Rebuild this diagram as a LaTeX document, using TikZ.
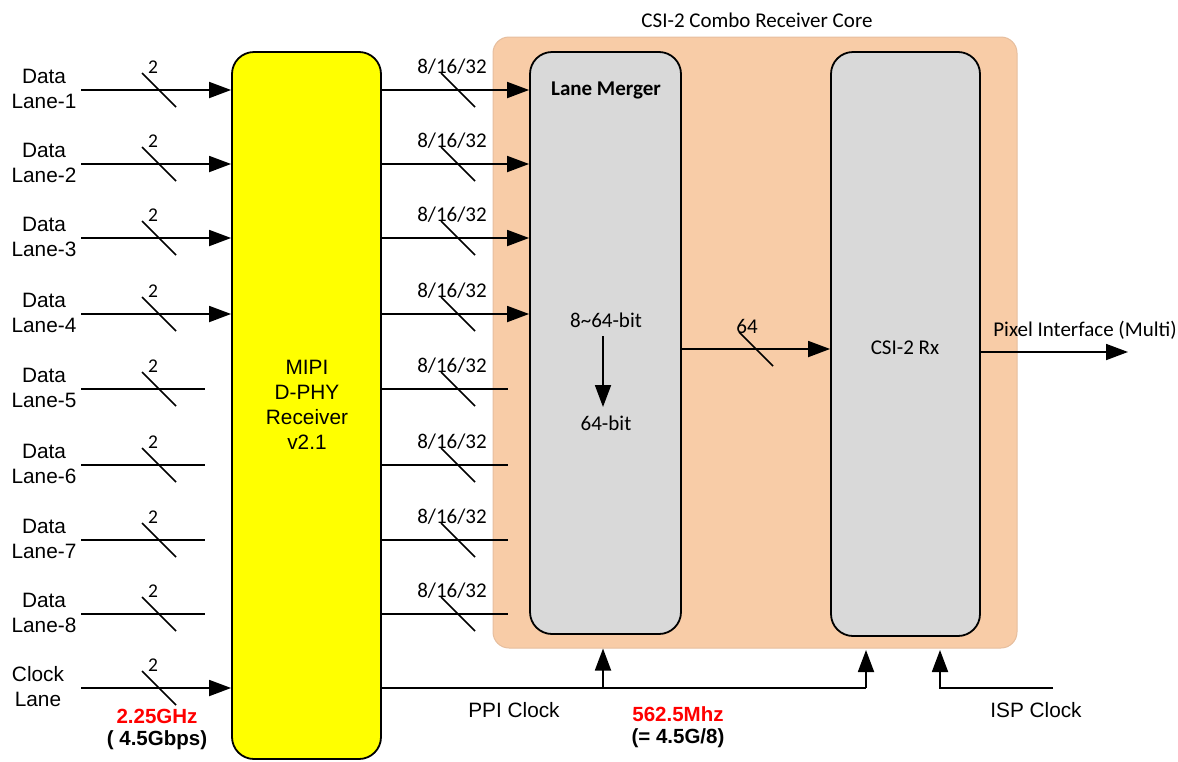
\documentclass[tikz,border=0pt]{standalone}
\usepackage{fontspec}
\setmainfont{Liberation Sans}
\newfontfamily\calfont{Carlito}
\usetikzlibrary{arrows.meta}
\definecolor{phyyellow}{RGB}{255,255,0}
\definecolor{corefill}{RGB}{248,204,167}
\definecolor{coreline}{RGB}{230,190,158}
\definecolor{blockgray}{RGB}{217,217,217}
\begin{document}
\begin{tikzpicture}[x=1pt,y=-1pt,
  wire/.style={line width=1.8pt, draw=black},
  arr/.style={wire, -{Triangle[length=22pt,width=16pt]}},
  slashline/.style={line width=1.5pt},
  blk/.style={draw, line width=1.8pt, rounded corners=22pt, inner sep=0pt},
  lbl/.style={font=\fontsize{20.8}{25}\selectfont, align=center, inner sep=0pt},
  cal/.style={font=\calfont\fontsize{21}{25}\selectfont, align=center, inner sep=0pt},
  calsm/.style={font=\calfont\fontsize{19.5}{22}\selectfont, inner sep=0pt},
  boldlbl/.style={font=\bfseries\fontsize{20.5}{24}\selectfont, inner sep=0pt}]
\useasboundingbox (0,0) rectangle (1178,761);

% blocks
\node[draw=coreline, line width=1pt, fill=corefill, rounded corners=16pt, minimum width=524pt, minimum height=611pt, inner sep=0pt] (core) at (755,342.5) {};
\node[blk, fill=phyyellow, minimum width=149pt, minimum height=707pt] (phy) at (306.5,405.5) {};
\node[blk, fill=blockgray, minimum width=151pt, minimum height=582pt] (merger) at (605.5,343) {};
\node[blk, fill=blockgray, minimum width=149pt, minimum height=584pt] (csirx) at (905.5,344) {};

\node[cal] (coretitle) at (757,20) {CSI-2 Combo Receiver Core};
\node[lbl] (phytext) at (307,405) {MIPI\\D-PHY\\Receiver\\v2.1};
\node[cal, font=\calfont\bfseries\fontsize{21}{24}\selectfont] (mergertitle) at (606,90) {Lane Merger};
\node[cal] (bitin) at (606,320) {8\textasciitilde 64-bit};
\node[cal] (bitout) at (606,423) {64-bit};
\draw[arr] (603,336) coordinate (dtop) -- (603,407) coordinate (dbot);
\node[cal] (rxtext) at (905,348) {CSI-2 Rx};

% lanes with arrows
\foreach \i/\y in {1/90,2/164,3/238,4/314} {
  \node[lbl] (lab\i) at (44,\y-1) {Data\\Lane-\i};
  \coordinate (in\i) at (81,\y);
  \draw[arr] (in\i) -- (in\i -| phy.west);
  \coordinate (s\i) at (159,\y);
  \draw[slashline] ([shift={(-17,-17)}]s\i) -- ([shift={(17,17)}]s\i);
  \node[calsm] (n\i) at (153,\y-23) {2};
  \draw[arr] (phy.east |- in\i) -- (merger.west |- in\i);
  \coordinate (t\i) at (458,\y);
  \draw[slashline] ([shift={(-17,-17)}]t\i) -- ([shift={(17,17)}]t\i);
  \node[cal] (w\i) at (452,\y-23) {8/16/32};
}
% lanes without arrows
\foreach \i/\y in {5/389,6/465,7/540,8/614} {
  \node[lbl] (lab\i) at (44,\y-1) {Data\\Lane-\i};
  \coordinate (in\i) at (81,\y);
  \coordinate (e\i) at (205,\y);
  \draw[wire] (in\i) -- (e\i);
  \coordinate (s\i) at (159,\y);
  \draw[slashline] ([shift={(-17,-17)}]s\i) -- ([shift={(17,17)}]s\i);
  \node[calsm] (n\i) at (153,\y-23) {2};
  \coordinate (f\i) at (508,\y);
  \draw[wire] (phy.east |- in\i) -- (f\i);
  \coordinate (t\i) at (458,\y);
  \draw[slashline] ([shift={(-17,-17)}]t\i) -- ([shift={(17,17)}]t\i);
  \node[cal] (w\i) at (452,\y-23) {8/16/32};
}
% clock lane
\node[lbl] (labclk) at (38,687) {Clock\\Lane};
\coordinate (inclk) at (81,688);
\draw[arr] (inclk) -- (inclk -| phy.west);
\coordinate (sclk) at (159,688);
\draw[slashline] ([shift={(-17,-17)}]sclk) -- ([shift={(17,17)}]sclk);
\node[calsm] (nclk) at (153,665) {2};
\node[boldlbl, text=red] (ghz) at (157,716) {2.25GHz};
\node[boldlbl] (gbps) at (157,740) {( 4.5Gbps)};

% merger -> csi rx
\coordinate (m64) at (merger.east |- 0,349);
\draw[arr] (m64) -- (csirx.west |- m64);
\coordinate (s64) at (756,349);
\draw[slashline] ([shift={(-17,-17)}]s64) -- ([shift={(17,17)}]s64);
\node[cal] (n64) at (747,326) {64};

% pixel interface
\coordinate (pixend) at (1128,352);
\draw[arr] (csirx.east |- pixend) -- (pixend);
\node[cal] (pixlbl) at (1085,330) {Pixel Interface (Multi)};

% clocks
\coordinate (ppiend) at (866,688);
\coordinate (ppibr) at (603,688);
\draw[wire] (phy.east |- ppiend) -- (ppiend);
\draw[arr] (ppibr) -- (ppibr |- core.south);
\draw[arr] (ppiend) -- (866,650);
\coordinate (ispin) at (1053,688);
\draw[arr] (ispin) -- (940,688) -- (940,650);
\node[lbl] (ppilbl) at (514,710) {PPI Clock};
\node[boldlbl, text=red] (mhz) at (678,714) {562.5Mhz};
\node[boldlbl] (div) at (678,738) {(= 4.5G/8)};
\node[lbl] (isplbl) at (1036,710) {ISP Clock};
\end{tikzpicture}
\end{document}
